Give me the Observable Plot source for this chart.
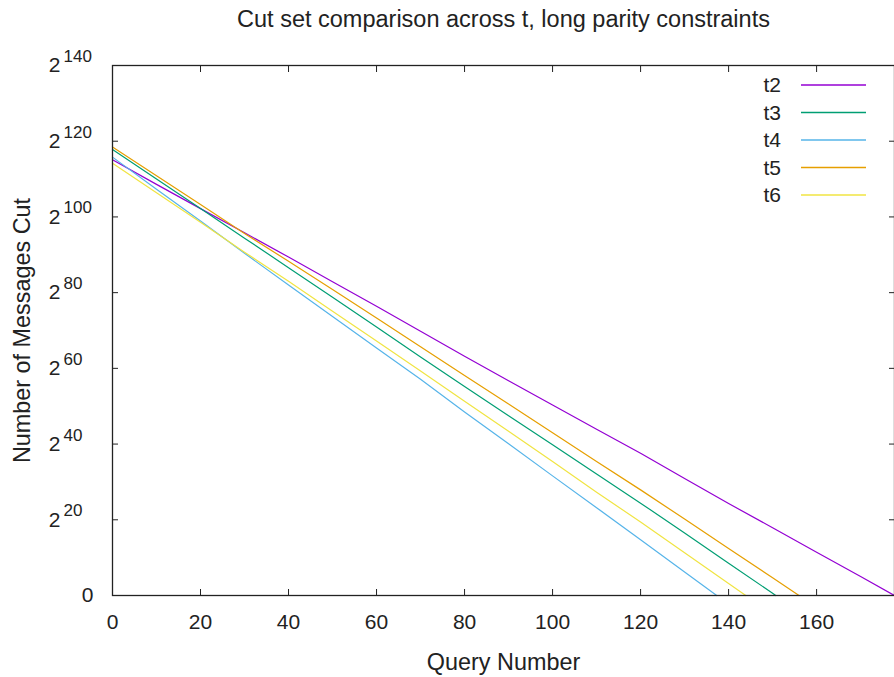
<!DOCTYPE html>
<html>
<head>
<meta charset="utf-8">
<script src="https://cdn.jsdelivr.net/npm/d3@7"></script>
<script src="https://cdn.jsdelivr.net/npm/@observablehq/plot@0.6"></script>
<style>
  body { margin: 0; background: #fff; }
  #wrap { position: relative; width: 894px; height: 677px; overflow: hidden; font-family: "Liberation Sans", Arial, sans-serif; }
  #legend { position: absolute; left: 0; top: 0; pointer-events: none; }
</style>
</head>
<body>
<div id="wrap"></div>
<script>
const titleText = "Cut set comparison across t, long parity constraints";
const xLabel = "Query Number";
const yLabel = "Number of Messages Cut";

const seriesNames = ["t2", "t3", "t4", "t5", "t6"];
const seriesColors = ["#9400d3", "#009e73", "#56b4e9", "#e69f00", "#f0e442"];

// exponent (log2 of messages cut)
const t2Query = [0, 10, 20, 30, 40, 50, 60, 70, 80, 90, 100, 110, 120, 130, 140, 150, 160, 170, 177.7];
const t2Exp   = [115.1, 108.6, 102.2, 95.8, 89.4, 82.9, 76.4, 69.8, 63.2, 56.7, 50.3, 43.9, 37.6, 30.9, 24.3, 17.9, 11.4, 5.0, 0];

const t3Query = [0, 10, 20, 30, 40, 50, 60, 70, 80, 90, 100, 110, 120, 130, 140, 150, 150.7];
const t3Exp   = [117.8, 110.0, 102.2, 94.4, 86.6, 78.8, 70.9, 63.0, 55.2, 47.5, 39.8, 32.1, 24.4, 16.5, 8.5, 0.6, 0];

const t4Query = [0, 10, 20, 30, 40, 50, 60, 70, 80, 90, 100, 110, 120, 130, 137.3];
const t4Exp   = [115.8, 107.3, 98.9, 90.4, 82.0, 73.7, 65.4, 57.1, 48.5, 40.1, 31.6, 23.2, 14.7, 6.2, 0];

const t5Query = [0, 10, 20, 30, 40, 50, 60, 70, 80, 90, 100, 110, 120, 130, 140, 150, 156.0];
const t5Exp   = [118.5, 110.9, 103.3, 95.6, 88.3, 80.8, 73.3, 65.7, 58.1, 50.6, 43.0, 35.4, 27.9, 20.2, 12.4, 4.7, 0];

const t6Query = [0, 10, 20, 30, 40, 50, 60, 70, 80, 90, 100, 110, 120, 130, 140, 143.9];
const t6Exp   = [114.2, 106.4, 98.6, 90.7, 83.0, 75.1, 67.2, 59.3, 51.3, 43.4, 35.4, 27.3, 19.4, 11.3, 3.2, 0];

const xTicks = [0, 20, 40, 60, 80, 100, 120, 140, 160];
const yTicks = [0, 20, 40, 60, 80, 100, 120, 140];

const seriesData = [
  ["t2", t2Query, t2Exp],
  ["t3", t3Query, t3Exp],
  ["t4", t4Query, t4Exp],
  ["t5", t5Query, t5Exp],
  ["t6", t6Query, t6Exp]
];
const rows = [];
for (const [name, qs, es] of seriesData) {
  qs.forEach((q, i) => rows.push({series: name, query: q, exp: es[i]}));
}

const font = "'Liberation Sans', Arial, sans-serif";
const ink = "#222";

const plot = Plot.plot({
  width: 894,
  height: 677,
  marginTop: 65,
  marginRight: 0,
  marginBottom: 82,
  marginLeft: 112,
  style: {fontFamily: font, fontSize: "21px", color: ink, background: "#fff", overflow: "visible"},
  x: {domain: [0, 177.7]},
  y: {domain: [0, 140]},
  color: {domain: seriesNames, range: seriesColors},
  marks: [
    Plot.line(rows, {x: "query", y: "exp", z: "series", stroke: "series", strokeWidth: 1.2}),
    Plot.frame({stroke: ink, strokeWidth: 1.3}),
    Plot.axisX({ticks: xTicks, tickSize: -6, tickPadding: 25, label: null, stroke: ink, fill: ink, fontSize: 21}),
    Plot.axisX({anchor: "top", ticks: xTicks, tickSize: -6, tickFormat: () => "", label: null, stroke: ink}),
    Plot.axisY({ticks: yTicks, tickSize: -6, tickFormat: () => "", label: null, stroke: ink}),
    Plot.axisY({anchor: "right", ticks: yTicks, tickSize: -6, tickFormat: () => "", label: null, stroke: ink}),
    Plot.text(yTicks.filter(d => d > 0), {y: d => d, text: () => "2", frameAnchor: "left", dx: -52, textAnchor: "end", fontSize: 21, fill: ink}),
    Plot.text(yTicks.filter(d => d > 0), {y: d => d, text: d => String(d), frameAnchor: "left", dx: -49, dy: -9, textAnchor: "start", fontSize: 17, fill: ink}),
    Plot.text(yTicks.filter(d => d === 0), {y: d => d, text: d => String(d), frameAnchor: "left", dx: -19, textAnchor: "end", fontSize: 21, fill: ink}),
    Plot.text([titleText], {frameAnchor: "top", dy: -46, lineAnchor: "middle", fontSize: 23.5, fill: ink}),
    Plot.text([xLabel], {frameAnchor: "bottom", dy: 67, lineAnchor: "middle", textAnchor: "middle", fontSize: 23.4, fill: ink}),
    Plot.text([yLabel], {frameAnchor: "left", dx: -90, rotate: -90, lineAnchor: "middle", textAnchor: "middle", fontSize: 23.4, fill: ink})
  ]
});

const wrap = document.getElementById("wrap");
wrap.appendChild(plot);

// legend (top-right, inside the frame)
const leg = d3.select(wrap).append("svg")
  .attr("id", "legend")
  .attr("width", 894).attr("height", 677);
seriesNames.forEach((name, i) => {
  const cy = 85 + 27.5 * i;
  leg.append("text")
    .attr("x", 781).attr("y", cy).attr("dy", "0.35em")
    .attr("text-anchor", "end")
    .attr("font-family", font).attr("font-size", 21).attr("fill", ink)
    .text(name);
  leg.append("line")
    .attr("x1", 801).attr("x2", 866).attr("y1", cy).attr("y2", cy)
    .attr("stroke", seriesColors[i]).attr("stroke-width", 1.5);
});
</script>
</body>
</html>
